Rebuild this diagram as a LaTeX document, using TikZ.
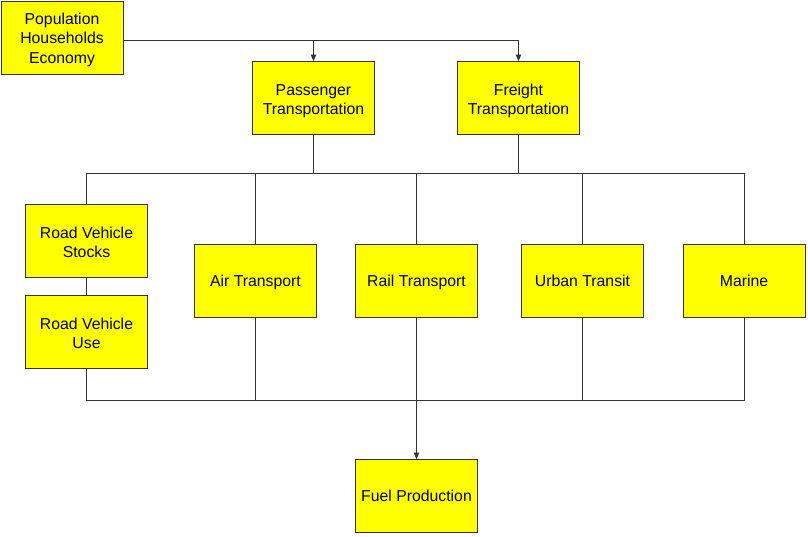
\documentclass[tikz,border=0pt]{standalone}
\usepackage{fontspec}
\setmainfont{Liberation Sans}
\usetikzlibrary{arrows.meta}
\definecolor{boxyellow}{RGB}{255,255,0}
\definecolor{linegray}{RGB}{50,50,50}
\tikzset{
  box/.style={draw=linegray, line width=0.9pt, fill=boxyellow, minimum width=122pt, minimum height=73pt,
    inner sep=0pt, align=center, font=\fontsize{15.8}{19.5}\selectfont,
    execute at begin node={\rule[-5.85pt]{0pt}{23.5pt}}, execute at end node=\strut},
  multibox/.style={box, execute at begin node={\rule[-5.85pt]{0pt}{#1}}},
  conn/.style={draw=linegray, line width=0.9pt},
  arr/.style={conn, -{Triangle[length=6.5pt,width=5.5pt]}}
}
\begin{document}
\begin{tikzpicture}[x=1pt,y=-1pt]
\useasboundingbox[fill=white] (0,0) rectangle (808,536);
\node[multibox=63.5pt] (pop) at (62,37.5) {Population\\Households\\Economy};
\node[multibox=45pt] (pass) at (313.5,98) {Passenger\\Transportation};
\node[multibox=45pt] (fr) at (518.5,98) {Freight\\Transportation};
\node[multibox=45pt] (rvs) at (86.5,241) {Road Vehicle\\Stocks};
\node[multibox=45pt] (rvu) at (86.5,332) {Road Vehicle\\Use};
\node[box] (air) at (255.5,280.5) {Air Transport};
\node[box] (rail) at (416.5,280.5) {Rail Transport};
\node[box] (urb) at (582.5,280.5) {Urban Transit};
\node[box] (mar) at (744,280.5) {Marine};
\node[box] (fuel) at (416.5,496) {Fuel Production};
\coordinate (t) at (0,40);
\coordinate (bt) at (0,173);
\coordinate (bb) at (0,400);
% top distribution
\draw[arr] (pop.east|-t) -| (fr.north);
\draw[arr] (pass.north|-t) -- (pass.north);
% upper bus
\draw[conn] (pass.south) -- (pass.south|-bt);
\draw[conn] (fr.south) -- (fr.south|-bt);
\draw[conn] (rvs.north) -- (rvs.north|-bt) -- (mar.north|-bt) -- (mar.north);
\draw[conn] (air.north|-bt) -- (air.north);
\draw[conn] (rail.north|-bt) -- (rail.north);
\draw[conn] (urb.north|-bt) -- (urb.north);
\draw[conn] (rvs.south) -- (rvu.north);
% lower bus
\draw[conn] (rvu.south) -- (rvu.south|-bb) -- (mar.south|-bb) -- (mar.south);
\draw[conn] (air.south) -- (air.south|-bb);
\draw[conn] (urb.south) -- (urb.south|-bb);
\draw[arr] (rail.south) -- (fuel.north);
\end{tikzpicture}
\end{document}
